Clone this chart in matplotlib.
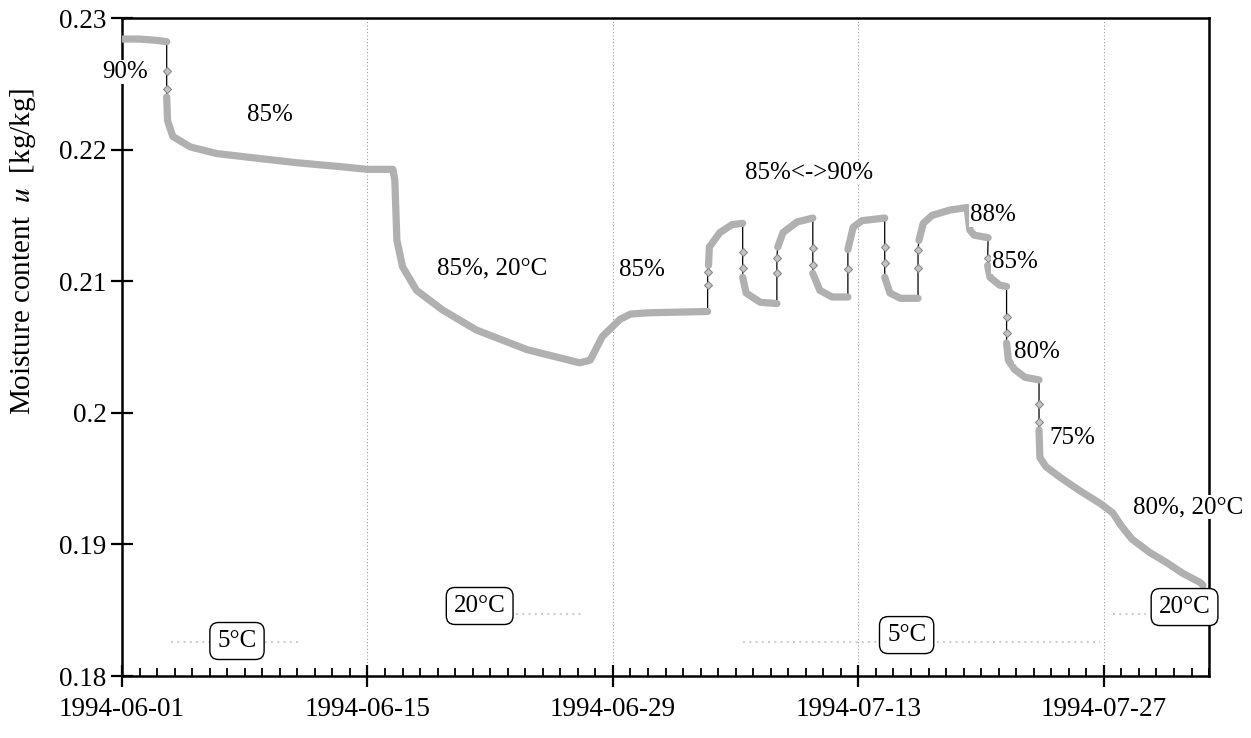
import numpy as np
import pandas as pd
import matplotlib
matplotlib.use('Agg')
import matplotlib.pyplot as plt
import matplotlib.dates as mdates
from matplotlib.ticker import FixedLocator, FuncFormatter

plt.rcParams['font.family'] = ['Liberation Serif', 'DejaVu Serif']
plt.rcParams['mathtext.fontset'] = 'stix'

start = pd.Timestamp('1994-06-01')

# Moisture content (days since start, kg/kg); seg = -1 marks points on a humidity step
days = [0.0, 1.0, 2.0, 2.55,
        2.55, 2.55,
        2.55, 2.6, 2.9, 3.9, 5.4, 8.0, 10.0, 12.5, 14.0, 15.45,
        15.56, 15.68, 16.0, 16.8, 18.3, 20.2, 23.1, 26.1, 26.7, 27.4, 28.4, 29.0, 30.0, 33.4,
        33.4, 33.4,
        33.45, 33.5, 34.1, 34.8, 35.4,
        35.4, 35.4,
        35.4, 35.6, 36.4, 37.35,
        37.35, 37.35,
        37.4, 37.7, 38.5, 39.4,
        39.4, 39.4,
        39.4, 39.8, 40.5, 41.4,
        41.4,
        41.4, 41.7, 42.2, 43.5,
        43.5, 43.5,
        43.5, 43.8, 44.4, 45.4,
        45.4, 45.4,
        45.45, 45.7, 46.2, 47.2, 48.2, 48.35, 48.6, 49.4,
        49.37,
        49.37, 49.5, 50.05, 50.45,
        50.45, 50.45,
        50.45, 50.55, 50.9, 51.5, 52.3,
        52.3, 52.3,
        52.3, 52.35, 52.7, 53.5, 54.6, 55.8, 56.5, 57.0, 57.6, 58.6, 59.6, 60.5, 61.5, 61.65]
u = [0.2284, 0.2284, 0.2283, 0.2282,
     0.2260, 0.2246,
     0.2240, 0.2222, 0.2210, 0.2202, 0.2197, 0.2193, 0.2190, 0.2187, 0.2185, 0.2185,
     0.2177, 0.2131, 0.2111, 0.2093, 0.2078, 0.2063, 0.2048, 0.2038, 0.2040, 0.2058, 0.2071, 0.2075, 0.2076, 0.2077,
     0.2097, 0.2107,
     0.2112, 0.2126, 0.2137, 0.2143, 0.2144,
     0.2122, 0.2110,
     0.2103, 0.2091, 0.2084, 0.2083,
     0.2106, 0.2118,
     0.2126, 0.2137, 0.2145, 0.2148,
     0.2125, 0.2112,
     0.2106, 0.2093, 0.2088, 0.2088,
     0.2109,
     0.2124, 0.2141, 0.2146, 0.2148,
     0.2126, 0.2114,
     0.2103, 0.2091, 0.2087, 0.2087,
     0.2110, 0.2124,
     0.2131, 0.2144, 0.2150, 0.2154, 0.2156, 0.2139, 0.2135, 0.2133,
     0.2118,
     0.2112, 0.2103, 0.2097, 0.2096,
     0.2073, 0.2061,
     0.2053, 0.2040, 0.2033, 0.2027, 0.2025,
     0.2007, 0.1993,
     0.1987, 0.1966, 0.1959, 0.1951, 0.1941, 0.1931, 0.1924, 0.1914, 0.1904, 0.1894, 0.1886, 0.1878, 0.1871, 0.1869]
seg = [0, 0, 0, 0,
       -1, -1,
       1, 1, 1, 1, 1, 1, 1, 1, 1, 1,
       1, 1, 1, 1, 1, 1, 1, 1, 1, 1, 1, 1, 1, 1,
       -1, -1,
       2, 2, 2, 2, 2,
       -1, -1,
       3, 3, 3, 3,
       -1, -1,
       4, 4, 4, 4,
       -1, -1,
       5, 5, 5, 5,
       -1,
       6, 6, 6, 6,
       -1, -1,
       7, 7, 7, 7,
       -1, -1,
       8, 8, 8, 8, 8, 8, 8, 8,
       -1,
       9, 9, 9, 9,
       -1, -1,
       10, 10, 10, 10, 10,
       -1, -1,
       11, 11, 11, 11, 11, 11, 11, 11, 11, 11, 11, 11, 11, 11]

# Climate room temperature (only partly logged)
temp_days = [2.8, 10.1, np.nan, 22.5, 26.3, np.nan, 35.4, 55.8, np.nan, 56.5, 58.4]
temp_c = [5, 5, np.nan, 20, 20, np.nan, 5, 5, np.nan, 20, 20]

# Text labels: (day, u, text)
rh_labels = [(0.17, 0.2259, '90%'), (8.44, 0.22263, '85%'), (21.1, 0.2110, '85%, 20°C'),
             (29.65, 0.21085, '85%'), (39.2, 0.21822, '85%<->90%'), (49.66, 0.21503, '88%'),
             (50.9, 0.21146, '85%'), (52.2, 0.20462, '80%'), (54.2, 0.19808, '75%'),
             (60.8, 0.19284, '80%, 20°C')]
temp_labels = [(6.56, 0.18266, '5°C'), (20.4, 0.18532, '20°C'),
               (44.75, 0.18311, '5°C'), (60.6, 0.18524, '20°C')]

yticks = [0.18, 0.19, 0.2, 0.21, 0.22, 0.23]
xticks = ['1994-06-01', '1994-06-15', '1994-06-29', '1994-07-13', '1994-07-27']


def to_date(d):
    return start + pd.to_timedelta(np.asarray(d, dtype=float), unit='D')


df = pd.DataFrame({'day': days, 'u': u, 'seg': seg})
df['date'] = to_date(df['day'])

fig = plt.figure(figsize=(12.51, 7.38), dpi=100)
ax = fig.add_axes([0.0975, 0.084, 0.869, 0.8916])
tax = ax.twinx()

# temperature on a hidden axis behind the moisture curve
tax.plot(to_date(temp_days), temp_c, color='#cfcfcf', lw=1.5, ls=(0, (1, 2)))
tax.set_ylim(-13.2, 339.7)
tax.axis('off')
ax.set_zorder(tax.get_zorder() + 1)
ax.patch.set_visible(False)

# thin black line joins everything, grey band on the continuous parts
ax.plot(df['date'], df['u'], color='black', lw=0.9, zorder=3)
for s, g in df[df['seg'] >= 0].groupby('seg'):
    ax.plot(g['date'], g['u'], color='#b0b0b0', lw=5.2, solid_capstyle='round',
            solid_joinstyle='round', zorder=4)
st = df[df['seg'] < 0]
ax.plot(st['date'], st['u'], ls='none', marker='D', ms=4.5, mfc='#c4c4c4',
        mec='#8a8a8a', mew=0.8, zorder=5)

for d, val, txt in rh_labels:
    ax.text(to_date(d), val, txt, ha='center', va='center', fontsize=18, zorder=10,
            clip_on=False, bbox=dict(facecolor='white', edgecolor='none', pad=0.5))
for d, val, txt in temp_labels:
    ax.text(to_date(d), val, txt, ha='center', va='center', fontsize=18, zorder=10,
            clip_on=False,
            bbox=dict(boxstyle='round,pad=0.3,rounding_size=0.35', facecolor='white',
                      edgecolor='black', lw=1.0))

ax.set_xlim(start, start + pd.Timedelta(days=62))
ax.set_ylim(0.18, 0.23)
ax.yaxis.set_major_locator(FixedLocator(yticks))
ax.yaxis.set_major_formatter(FuncFormatter(lambda v, p: f'{v:g}'))
ax.set_xticks(pd.to_datetime(xticks))
ax.xaxis.set_major_formatter(mdates.DateFormatter('%Y-%m-%d'))
ax.xaxis.set_minor_locator(mdates.DayLocator())

ax.tick_params(axis='both', which='major', direction='inout', length=16, width=1.6,
               labelsize=19.5, colors='black')
ax.tick_params(axis='x', which='major', pad=7)
ax.tick_params(axis='y', which='major', pad=3)
ax.tick_params(axis='x', which='minor', direction='in', length=6, width=1.3)
ax.grid(axis='x', which='major', ls=(0, (1, 2)), color='#9a9a9a', lw=0.8)
for sp in ax.spines.values():
    sp.set_linewidth(1.8)

ax.set_ylabel('Moisture content  $u$  [kg/kg]', fontsize=21)
ax.yaxis.set_label_coords(-0.077, 0.646)

plt.savefig('out.png', dpi=100)
plt.close()
